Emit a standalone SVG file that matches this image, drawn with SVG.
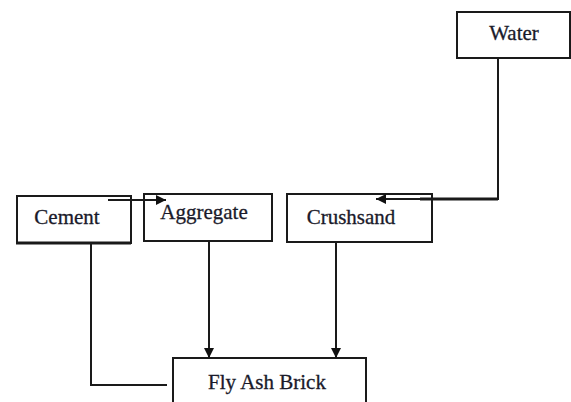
<svg xmlns="http://www.w3.org/2000/svg" width="571" height="402" viewBox="0 0 571 402">
<style>
.box{fill:#fff;stroke:#1a1a1a;stroke-width:2}
.lbl{font-family:"Liberation Serif","Times New Roman",serif;font-size:21px;fill:#1a1a2a;stroke:#1a1a2a;stroke-width:0.3}
.ln{fill:none;stroke:#1a1a1a;stroke-width:2}
</style>
<defs>
<marker id="ah" viewBox="0 0 10 10" refX="10" refY="5" markerWidth="10" markerHeight="10" markerUnits="userSpaceOnUse" orient="auto">
<path d="M0,0 L10,5 L0,10 Z" fill="#111"/>
</marker>
</defs>
<rect width="571" height="402" fill="#fff"/>
<g id="water"><rect class="box" x="457" y="12" width="113" height="46"/><text class="lbl" x="514" y="40" text-anchor="middle">Water</text></g>
<g id="cement"><rect class="box" x="17" y="196" width="114" height="47"/><line x1="16" y1="243" x2="131" y2="243" stroke="#1a1a1a" stroke-width="3"/><text class="lbl" x="67" y="224" text-anchor="middle">Cement</text></g>
<g id="aggregate"><rect class="box" x="144" y="194" width="128" height="47"/><text class="lbl" x="204" y="219" text-anchor="middle">Aggregate</text></g>
<g id="crushsand"><rect class="box" x="287" y="194" width="145" height="48"/><text class="lbl" x="351" y="224" text-anchor="middle">Crushsand</text></g>
<g id="flyash"><rect class="box" x="173" y="358" width="193" height="60"/><text class="lbl" x="267" y="389" text-anchor="middle" font-size="23.5">Fly Ash Brick</text></g>
<g id="connectors">
<line class="ln" x1="108" y1="200" x2="166" y2="200" marker-end="url(#ah)"/>
<polyline class="ln" points="498,58 498,199 376,199" stroke-width="2.5" marker-end="url(#ah)"/>
<line x1="420" y1="199" x2="498" y2="199" stroke="#1a1a1a" stroke-width="3"/>
<polyline class="ln" points="91,243 91,385 167,385"/>
<line class="ln" x1="209" y1="241" x2="209" y2="358" marker-end="url(#ah)"/>
<line class="ln" x1="336" y1="242" x2="336" y2="358" stroke="#666" stroke-width="2.5" marker-end="url(#ah)"/>
</g>
</svg>
